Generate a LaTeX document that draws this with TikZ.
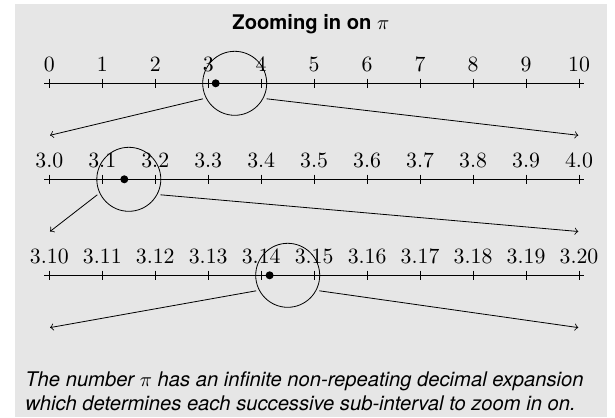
\documentclass[tikz,border=0pt]{standalone}
\usepackage{fontspec}
\newfontfamily\helv{TeX Gyre Heros}
\definecolor{bggray}{RGB}{230,230,230}
\def\px{0.4955pt}
\begin{document}
\begin{tikzpicture}[x=0.4955pt,y=-0.4955pt,
  lbl/.style={font=\fontsize{10.8}{13}\selectfont, anchor=base, inner sep=0pt},
  tickmark/.style={line width=0.4pt},
  axisline/.style={line width=0.4pt},
  pidot/.style={circle, fill=black, inner sep=0pt, minimum size={8*\px}},
  ring/.style={circle, draw=black, line width=0.4pt, inner sep=0pt, minimum size={64*\px}},
  zoomarrow/.style={->, line width=0.4pt},
  captxt/.style={font=\helv\itshape\fontsize{10}{12}\selectfont, anchor=base west, inner sep=0pt},
  titletxt/.style={font=\helv\bfseries\fontsize{10}{12}\selectfont, anchor=base, inner sep=0pt}]
\useasboundingbox (0,0) rectangle (615,417);
\fill[bggray] (15,4) rectangle (606.7,417);

\node[titletxt] (title) at (310.9,29.3) {Zooming in on $\pi$};

% row 1
\draw[axisline] (44.3,83.3) coordinate (a1l) -- (584,83.3) coordinate (a1r);
\foreach \t [count=\i from 0] in {0,1,2,3,4,5,6,7,8,9,10} {
  \draw[tickmark] (49.3+\i*52.97,78.6) -- (49.3+\i*52.97,88.0);
  \node[lbl] (l1-\i) at (49.3+\i*52.97,71.3) {\t};
}
% row 2
\draw[axisline] (44.3,179.3) coordinate (a2l) -- (584,179.3) coordinate (a2r);
\foreach \t [count=\i from 0] in {3.0,3.1,3.2,3.3,3.4,3.5,3.6,3.7,3.8,3.9,4.0} {
  \draw[tickmark] (49.3+\i*52.97,174.6) -- (49.3+\i*52.97,184.0);
  \node[lbl] (l2-\i) at (49.3+\i*52.97,167.3) {\t};
}
% row 3
\draw[axisline] (44.3,275.3) coordinate (a3l) -- (584,275.3) coordinate (a3r);
\foreach \t [count=\i from 0] in {3.10,3.11,3.12,3.13,3.14,3.15,3.16,3.17,3.18,3.19,3.20} {
  \draw[tickmark] (49.3+\i*52.97,270.6) -- (49.3+\i*52.97,280.0);
  \node[lbl] (l3-\i) at (49.3+\i*52.97,263.3) {\t};
}

% dots at pi
\node[pidot] (d1) at (215.7,83.3) {};
\node[pidot] (d2) at (124.3,179.3) {};
\node[pidot] (d3) at (269.6,275.3) {};

% zoom rings
\node[ring] (r1) at (234.7,83.3) {};
\node[ring] (r2) at (128.8,179.3) {};
\node[ring] (r3) at (287.7,275.3) {};

% arrow start and end points
\coordinate (s1l) at (203.0,98.8);
\coordinate (s1r) at (266.6,98.8);
\coordinate (s2l) at (97.3,194.8);
\coordinate (s2r) at (160.5,194.8);
\coordinate (s3l) at (256.2,290.8);
\coordinate (s3r) at (319.4,290.8);
\coordinate (t1l) at (50,135.3);
\coordinate (t1r) at (578.3,135.3);
\coordinate (t2l) at (50,231.5);
\coordinate (t2r) at (578.3,231.5);
\coordinate (t3l) at (50,327.6);
\coordinate (t3r) at (578.3,327.6);

\draw[zoomarrow] (s1l) -- (t1l);
\draw[zoomarrow] (s1r) -- (t1r);
\draw[zoomarrow] (s2l) -- (t2l);
\draw[zoomarrow] (s2r) -- (t2r);
\draw[zoomarrow] (s3l) -- (t3l);
\draw[zoomarrow] (s3r) -- (t3r);

\node[captxt] (cap1) at (25,386.5) {The number $\pi$ has an infinite non-repeating decimal expansion};
\node[captxt] (cap2) at (25,410) {which determines each successive sub-interval to zoom in on.};
\end{tikzpicture}
\end{document}
